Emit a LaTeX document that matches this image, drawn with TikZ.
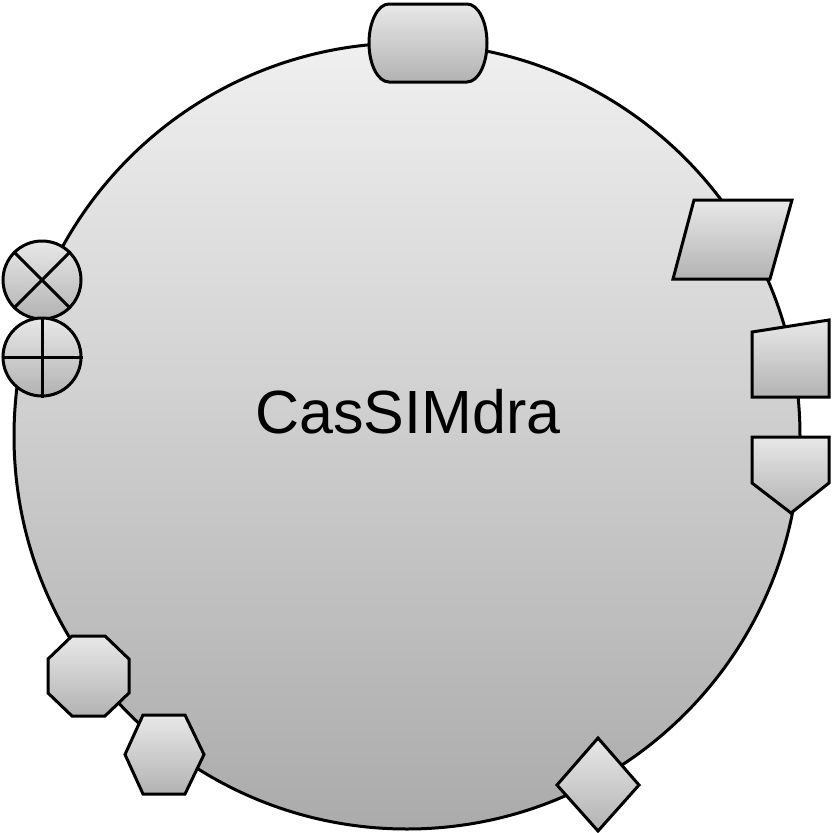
\documentclass[tikz,border=0pt]{standalone}
\usepackage{fontspec}
\setmainfont{Liberation Sans}
\begin{document}
\begin{tikzpicture}[x=1pt,y=-1pt,
  bigshape/.style={draw=black,line width=3pt,top color=gray!12,bottom color=gray!66},
  smallshape/.style={draw=black,line width=3pt,top color=gray!18,bottom color=gray!60,line join=miter},
  junction/.style={circle,draw=black,line width=3pt,inner sep=0pt,minimum size=78pt,top color=gray!18,bottom color=gray!60}]
\useasboundingbox (0,0) rectangle (831,833);
% main circle
\node[bigshape,circle,inner sep=0pt,minimum size=786pt] (main) at (407,436) {};
\node (label) at (408,412) {\fontsize{61}{73}\selectfont CasSIMdra};
% top terminal
\draw[smallshape] (389,4) -- (467,4) arc[start angle=-90,end angle=90,x radius=20,y radius=39]
  -- (389,82) arc[start angle=90,end angle=270,x radius=20,y radius=39] -- cycle;
% parallelogram
\draw[smallshape] (694,200) -- (792,200) -- (770,279) -- (673,279) -- cycle;
% manual input
\draw[smallshape] (752,332) -- (829,320) -- (829,397) -- (752,397) -- cycle;
% off-page connector
\draw[smallshape] (752,437) -- (829,437) -- (829,483) -- (791,513) -- (752,483) -- cycle;
% sum junctions
\node[junction] (sumx) at (42,280) {};
\draw[line width=3pt] (sumx.45) -- (sumx.225) (sumx.135) -- (sumx.315);
\node[junction] (sump) at (42,357) {};
\draw[line width=3pt] (sump.north) -- (sump.south) (sump.west) -- (sump.east);
% octagon
\draw[smallshape] (72,636) -- (105,636) -- (129,659) -- (129,693) -- (105,716) -- (72,716) -- (48,693) -- (48,659) -- cycle;
% hexagon
\draw[smallshape] (125,754.5) -- (143,715) -- (185,715) -- (204,754.5) -- (185,794) -- (143,794) -- cycle;
% diamond
\draw[smallshape] (598,738) -- (639,785) -- (598,831) -- (557,785) -- cycle;
\end{tikzpicture}
\end{document}
